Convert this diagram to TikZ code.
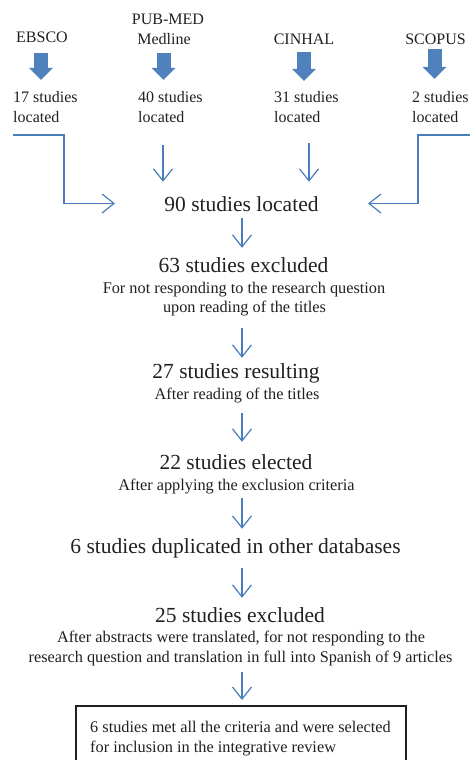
\documentclass[tikz,border=0pt]{standalone}
\usepackage{fontspec}
\setmainfont{Liberation Serif}
\usetikzlibrary{arrows.meta}
\definecolor{txt}{HTML}{231F20}
\definecolor{blu}{HTML}{4A7EBB}
\definecolor{fatblu}{HTML}{4F81BD}
\begin{document}
\begin{tikzpicture}[x=1pt,y=-1pt,
  top/.style={font=\fontsize{16}{19}\selectfont, text=txt, inner sep=0pt, text height=11pt, text depth=3.5pt, anchor=base},
  topl/.style={top, anchor=base west},
  big/.style={font=\fontsize{21.5}{25}\selectfont, text=txt, inner sep=0pt, text height=15pt, text depth=5pt, anchor=base},
  sub/.style={font=\fontsize{16.3}{20}\selectfont, text=txt, inner sep=0pt, text height=11.5pt, text depth=4pt, anchor=base},
  fat/.style={draw=fatblu, line width=14pt, -{Triangle[length=12pt,width=24pt,line width=0pt]}},
  conn/.style={draw=blu, line width=1.2pt, -{Straight Barb[length=12pt,width=19pt]}},
  boxst/.style={draw=txt, line width=1.5pt, inner sep=0pt},
]
\useasboundingbox (0,0) rectangle (470,760);
\clip (0,0) rectangle (470,760);

% columns
\coordinate (cE) at (41,0);
\coordinate (cP) at (163.5,0);
\coordinate (cC) at (304,0);
\coordinate (cS) at (434.5,0);
\coordinate (cP2) at (163,0);
\coordinate (cC2) at (309,0);
\coordinate (col) at (242,0);

% sources
\node[top] (ebsco) at (42,43) {EBSCO};
\node[top] (pm1) at (168,25) {PUB-MED};
\node[top] (pm2) at (164,45) {Medline};
\node[top] (cinhal) at (304,45) {CINHAL};
\node[top] (scopus) at (435.5,45) {SCOPUS};

\node[topl] (n17a) at (13,102) {17 studies};
\node[topl] (n17b) at (13,122) {located};
\node[topl] (n40a) at (138,102) {40 studies};
\node[topl] (n40b) at (138,122) {located};
\node[topl] (n31a) at (274,102) {31 studies};
\node[topl] (n31b) at (274,122) {located};
\node[topl] (n2a) at (412,102) {2 studies};
\node[topl] (n2b) at (412,122) {located};

\draw[fat, shorten <=6.5pt, shorten >=11pt] (ebsco.south -| cE) -- (n17a.north -| cE);
\draw[fat, shorten <=4.5pt, shorten >=11pt] (pm2.south -| cP) -- (n40a.north -| cP);
\draw[fat, shorten <=3.5pt, shorten >=10pt] (cinhal.south -| cC) -- (n31a.north -| cC);
\draw[fat, shorten <=0.5pt, shorten >=12pt] (scopus.south -| cS) -- (n2a.north -| cS);

% main chain
\node[big] (t90) at (241.5,211) {90 studies located};
\node[big] (t63) at (243.5,272) {63 studies excluded};
\node[sub] (s63a) at (244,293) {For not responding to the research question};
\node[sub] (s63b) at (244.5,312) {upon reading of the titles};
\node[big] (t27) at (236,378) {27 studies resulting};
\node[sub] (s27) at (237,399) {After reading of the titles};
\node[big] (t22) at (236,469) {22 studies elected};
\node[sub] (s22) at (236.5,490) {After applying the exclusion criteria};
\node[big] (t6) at (235.5,553) {6 studies duplicated in other databases};
\node[big] (t25) at (240,622) {25 studies excluded};
\node[sub] (s25a) at (241,642) {After abstracts were translated, for not responding to the};
\node[sub] (s25b) at (240.5,662) {research question and translation in full into Spanish of 9 articles};
\node[boxst, minimum width=330pt, minimum height=80pt, anchor=north west] (final) at (75,705) {};
\node[sub, anchor=base west] (f1) at (90,732) {6 studies met all the criteria and were selected};
\node[sub, anchor=base west] (f2) at (90,752) {for inclusion in the integrative review};

% side connectors
\coordinate (e1) at (13,135);
\coordinate (e2) at (64,203.5);
\coordinate (e3) at (115,203.5);
\draw[conn] (e1) -| (e2) -- (e3);
\coordinate (r1) at (471,135);
\coordinate (r2) at (418,203.5);
\coordinate (r3) at (368,203.5);
\draw[conn] (r1) -| (r2) -- (r3);
\draw[conn, shorten <=19.5pt, shorten >=14pt] (n40b.south -| cP2) -- (t90.north -| cP2);
\draw[conn, shorten <=17.5pt, shorten >=14pt] (n31b.south -| cC2) -- (t90.north -| cC2);

% chain arrows
\draw[conn, shorten <=2pt, shorten >=9pt] (t90.south -| col) -- (t63.north -| col);
\draw[conn, shorten <=12pt, shorten >=5pt] (s63b.south -| col) -- (t27.north -| col);
\draw[conn, shorten <=10pt, shorten >=12pt] (s27.south -| col) -- (t22.north -| col);
\draw[conn, shorten <=4pt, shorten >=9pt] (s22.south -| col) -- (t6.north -| col);
\draw[conn, shorten <=10pt, shorten >=9pt] (t6.south -| col) -- (t25.north -| col);
\draw[conn, shorten <=6pt, shorten >=5pt] (s25b.south -| col) -- (final.north -| col);
\end{tikzpicture}
\end{document}
